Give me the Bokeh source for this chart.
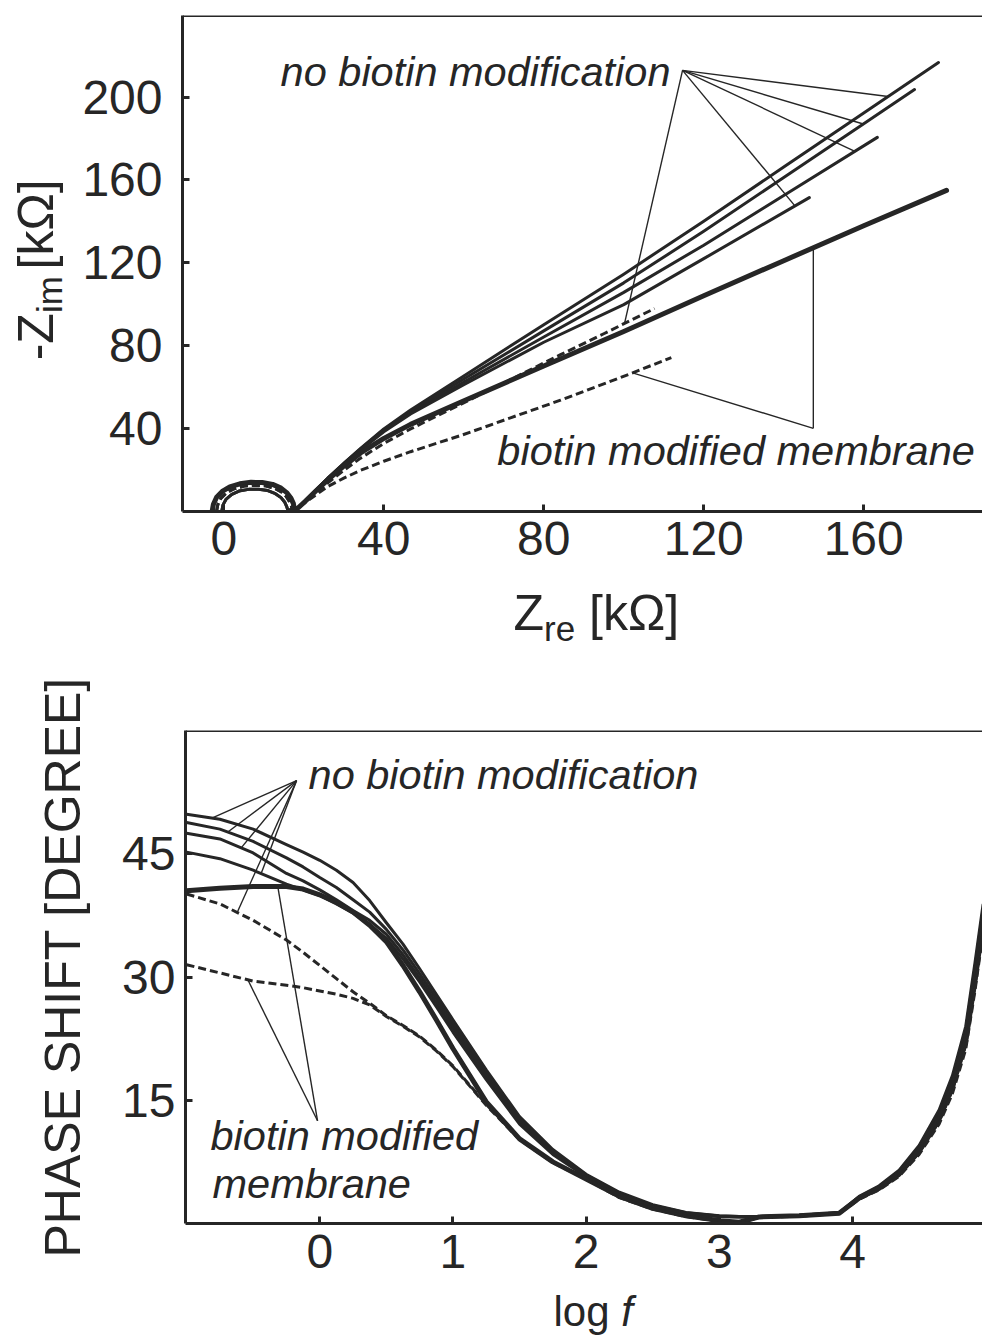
import numpy as np
from bokeh.plotting import figure
from bokeh.models import Range1d, FixedTicker, Label, Span, Title
from bokeh.layouts import column, row
from bokeh.embed import file_html
from bokeh.resources import INLINE

INK = "#262626"
FONT = "Liberation Sans"
LIFT = 0.36  # alphabetic-baseline correction for Label text, in em

# ---------------- Nyquist data (kOhm) ----------------
# high-frequency loops
loop_outer_x = [-2.9, -2.6, -1.8, -0.4, 1.5, 4.0, 6.8, 9.6, 12.2, 14.3, 15.8, 16.8, 17.4, 17.6]
loop_outer_y = [0.0, 3.2, 6.6, 9.4, 11.6, 13.1, 13.8, 13.7, 12.8, 11.0, 8.7, 6.1, 3.5, 1.2]
loop_mid_x = [-1.8, -1.5, -0.7, 0.7, 2.6, 5.1, 7.8, 10.4, 12.6, 14.4, 15.6, 16.4, 16.9, 17.1]
loop_mid_y = [0.0, 3.0, 6.2, 8.8, 10.7, 12.0, 12.3, 12.1, 11.0, 9.2, 7.0, 4.6, 2.3, 0.6]
loop_inner_x = [-0.5, -0.2, 0.6, 2.0, 3.8, 6.2, 8.7, 11.0, 12.9, 14.3, 15.2, 15.7, 16.0]
loop_inner_y = [0.0, 2.9, 5.7, 8.0, 9.6, 10.4, 10.5, 9.8, 8.3, 6.4, 4.3, 2.2, 0.4]

# low-frequency branches, no biotin modification
nyq_nb1_x = [18.2, 20.5, 23, 26, 30, 34.2, 40, 46.7, 60, 80, 100, 120, 140, 160, 178.7]
nyq_nb1_y = [0.8, 5.0, 9.9, 15.8, 23.0, 30.2, 39.6, 48.8, 65.2, 90.0, 114.4, 140.0, 166.2, 192.3, 216.7]
nyq_nb2_x = [18.2, 20.5, 23, 26, 30, 34.2, 40, 46.7, 60, 80, 100, 120, 140, 160, 172.7]
nyq_nb2_y = [0.8, 5.0, 9.9, 15.8, 22.9, 30.0, 39.2, 48.0, 63.7, 87.0, 110.2, 135.1, 161.1, 187.1, 203.6]
nyq_nb3_x = [18.2, 20.5, 23, 26, 30, 34.2, 40, 46.7, 60, 80, 100, 120, 140, 163.4]
nyq_nb3_y = [0.8, 5.0, 9.8, 15.6, 22.7, 29.7, 38.7, 47.3, 62.3, 84.0, 105.6, 128.4, 152.4, 180.5]
nyq_nb4_x = [18.2, 20.5, 23, 26, 30, 34.2, 40, 46.7, 60, 80, 100, 120, 146.4]
nyq_nb4_y = [0.8, 5.0, 9.8, 15.5, 22.5, 29.4, 38.2, 46.8, 61.0, 81.5, 99.7, 121.9, 151.4]
nyq_nbd_x = [18.2, 20.5, 23, 26, 30, 34.2, 40, 46.7, 59.2, 70, 84.2, 95, 107.7]
nyq_nbd_y = [0.8, 4.6, 8.8, 13.6, 19.6, 25.5, 32.6, 39.6, 51.5, 61.8, 75.5, 85.6, 97.8]
# biotin modified membrane
nyq_bm_x = [18.2, 20.5, 23, 26, 30, 34.2, 40, 46.7, 59.2, 80, 100, 120, 140, 160, 180.7]
nyq_bm_y = [0.8, 4.9, 9.6, 15.0, 21.6, 28.0, 35.0, 41.8, 52.5, 70.0, 86.7, 104.0, 120.9, 137.8, 154.9]
nyq_bmd_x = [18.2, 20.5, 23, 26, 30, 34.2, 40, 46.7, 59.2, 70, 84.2, 101.7, 111.9]
nyq_bmd_y = [0.8, 4.2, 7.7, 11.8, 15.8, 19.6, 24.0, 28.6, 36.4, 43.8, 53.5, 66.3, 74.1]

nyq_xticks = [0, 40, 80, 120, 160]
nyq_yticks = [40, 80, 120, 160, 200]

# ---------------- Bode phase data (degree) ----------------
logf = [-1.0, -0.75, -0.5, -0.25, -0.125, 0.0, 0.125, 0.25, 0.375, 0.5, 0.625, 0.75, 0.875, 1.0,
        1.25, 1.5, 1.75, 2.0, 2.25, 2.5, 2.75, 3.0, 3.15, 3.3, 3.6, 3.9,
        4.05, 4.2, 4.35, 4.5, 4.65, 4.75, 4.85, 4.92, 4.98]
ph_nb1 = [49.8, 49.2, 48.0, 46.1, 45.2, 44.2, 43.0, 41.5, 39.3, 36.6, 34.0, 31.0, 27.9, 24.8,
          18.7, 13.0, 9.0, 6.0, 3.8, 2.3, 1.35, 0.95, 0.85, 0.85, 1.0, 1.3,
          3.3, 4.6, 6.5, 9.5, 13.8, 18.0, 24.0, 31.8, 38.8]
ph_nb2 = [48.8, 48.0, 46.5, 44.5, 43.4, 42.1, 40.9, 39.4, 37.9, 35.8, 33.3, 30.4, 27.4, 24.3,
          18.3, 12.7, 8.8, 5.9, 3.7, 2.2, 1.3, 0.9, 0.85, 0.85, 1.0, 1.3,
          3.25, 4.5, 6.35, 9.3, 13.5, 17.6, 23.5, 31.2, 38.2]
ph_nb3 = [47.5, 46.8, 45.1, 42.6, 41.7, 40.6, 39.4, 38.1, 36.9, 35.2, 32.7, 29.9, 26.9, 23.8,
          17.9, 12.4, 8.6, 5.8, 3.6, 2.1, 1.25, 0.85, 0.8, 0.8, 0.95, 1.25,
          3.2, 4.4, 6.2, 9.1, 13.2, 17.2, 23.0, 30.6, 37.6]
ph_nb4 = [45.2, 44.4, 43.0, 41.3, 40.6, 39.9, 38.9, 37.8, 36.4, 34.7, 32.2, 29.4, 26.4, 23.3,
          17.5, 12.1, 8.4, 5.7, 3.5, 2.05, 1.2, 0.85, 0.8, 0.8, 0.95, 1.25,
          3.15, 4.35, 6.1, 8.95, 12.95, 16.9, 22.6, 30.1, 37.1]
ph_nbd = [40.1, 38.9, 36.9, 34.5, 33.0, 31.4, 29.8, 28.2, 26.8, 25.3, 24.1, 22.8, 21.1, 19.2,
          14.5, 10.3, 7.5, 5.5, 3.2, 1.8, 0.9, 0.3, 0.05, 0.75, 0.9, 1.2,
          3.0, 4.2, 5.9, 8.6, 12.4, 16.2, 21.7, 29.0, 36.0]
ph_bm = [40.5, 40.8, 41.0, 41.0, 40.7, 40.0, 39.1, 37.9, 36.3, 34.3, 31.4, 28.2, 24.8, 21.3,
         14.8, 10.3, 7.5, 5.4, 3.3, 1.85, 0.95, 0.35, 0.15, 0.8, 0.95, 1.25,
         3.1, 4.3, 6.0, 8.8, 12.7, 16.6, 22.2, 29.6, 36.6]
ph_bmd = [31.5, 30.5, 29.5, 29.0, 28.7, 28.3, 27.9, 27.4, 26.6, 25.2, 24.0, 22.7, 21.0, 19.1,
          14.4, 10.2, 7.4, 5.4, 3.15, 1.75, 0.85, 0.25, 0.05, 0.75, 0.9, 1.2,
          2.95, 4.1, 5.75, 8.4, 12.1, 15.8, 21.2, 28.4, 35.4]

bode_xticks = [0, 1, 2, 3, 4]
bode_yticks = [15, 30, 45]


def make_fig(width, height, left, top, bottom, xr, yr, xticks, yticks, xstand, ystand):
    p = figure(width=width, height=height, x_range=Range1d(*xr), y_range=Range1d(*yr),
               output_backend="svg", toolbar_location=None,
               min_border_left=left, min_border_right=0,
               min_border_top=top, min_border_bottom=bottom)
    p.outline_line_color = None
    p.grid.visible = False
    p.background_fill_color = "white"
    p.border_fill_color = "white"
    p.xaxis.ticker = FixedTicker(ticks=xticks)
    p.yaxis.ticker = FixedTicker(ticks=yticks)
    p.xaxis.major_label_standoff = xstand
    p.yaxis.major_label_standoff = ystand
    for ax in (p.xaxis[0], p.yaxis[0]):
        ax.axis_line_width = 3
        ax.axis_line_color = INK
        ax.major_tick_in = 7
        ax.major_tick_out = 0
        ax.major_tick_line_width = 3
        ax.major_tick_line_color = INK
        ax.minor_tick_line_color = None
        ax.major_label_text_font = FONT
        ax.major_label_text_font_size = "48px"
        ax.major_label_text_color = INK
    p.add_layout(Span(location=yr[1], dimension="width", line_color=INK, line_width=3))
    return p


def pane(width, height):
    # blank drawing area whose data units are pixels, y running downwards
    f = figure(width=width, height=height, x_range=Range1d(0, width), y_range=Range1d(height, 0),
               output_backend="svg", toolbar_location=None, x_axis_type=None, y_axis_type=None,
               min_border_left=0, min_border_right=0, min_border_top=0, min_border_bottom=0)
    f.outline_line_color = None
    f.grid.visible = False
    f.background_fill_color = "white"
    f.border_fill_color = "white"
    return f


def text(p, x, y, s, size, italic=False, angle=0.0, align="left"):
    p.add_layout(Label(x=x, y=y, text=s, text_font=FONT, text_font_size=f"{size}px",
                       text_font_style="italic" if italic else "normal",
                       text_color=INK, angle=angle, text_align=align,
                       text_baseline="alphabetic"))


def curve(p, xs, ys, width, dashed=False):
    if dashed:
        p.line(xs, ys, line_color=INK, line_width=width, line_dash="8 4", line_cap="butt",
               line_join="round")
    else:
        p.line(xs, ys, line_color=INK, line_width=width, line_cap="round", line_join="round")


def leaders(p, origin, targets):
    for xs, ys, xt in targets:
        yt = float(np.interp(xt, xs, ys))
        p.line([origin[0], xt], [origin[1], yt], line_color=INK, line_width=1.4)


thin, thick, dash_w = 3.0, 5.0, 3.0

# ---------------- Nyquist plot ----------------
p1 = make_fig(906, 580, 106, 15, 69, (-10.33, 189.7), (-0.3, 239.4),
              nyq_xticks, nyq_yticks, 10, 20)

series = [
    (loop_outer_x, loop_outer_y, nyq_nb1_x, nyq_nb1_y, thin, False),
    (loop_inner_x, loop_inner_y, nyq_nb2_x, nyq_nb2_y, thin, False),
    (loop_outer_x, loop_outer_y, nyq_nb3_x, nyq_nb3_y, thin, False),
    (loop_inner_x, loop_inner_y, nyq_nb4_x, nyq_nb4_y, thin, False),
    (loop_outer_x, loop_outer_y, nyq_bm_x, nyq_bm_y, thick, False),
    (loop_mid_x, loop_mid_y, nyq_nbd_x, nyq_nbd_y, dash_w, True),
    (loop_mid_x, loop_mid_y, nyq_bmd_x, nyq_bmd_y, dash_w, True),
]
for lx, ly, sx, sy, w, d in series:
    curve(p1, lx + sx, ly + sy, w, d)

leaders(p1, (114.7, 212.9), [
    (nyq_nb1_x, nyq_nb1_y, 166.1),
    (nyq_nb2_x, nyq_nb2_y, 159.9),
    (nyq_nb3_x, nyq_nb3_y, 157.8),
    (nyq_nb4_x, nyq_nb4_y, 142.8),
    (nyq_nbd_x, nyq_nbd_y, 100.2),
])
leaders(p1, (147.4, 39.9), [
    (nyq_bm_x, nyq_bm_y, 147.4),
    (nyq_bmd_x, nyq_bmd_y, 102.2),
])
text(p1, 14.2, 212.3, "no biotin modification", 41.5, italic=True)
text(p1, 68.4, 29.1, "biotin modified membrane", 41.5, italic=True)

# y title of the Nyquist plot, drawn upwards with subscript
ylab1 = pane(76, 580)
text(ylab1, 35, 348, "-Z", 50, angle=np.pi / 2, align="right")
text(ylab1, 49, 348, "im", 35, angle=np.pi / 2, align="left")
text(ylab1, 35, 297, "[kΩ]", 50, angle=np.pi / 2, align="left")

# x title of the Nyquist plot
xlab1 = pane(982, 80)
text(xlab1, 513, 630 - 580 - LIFT * 50, "Z", 50)
text(xlab1, 543.6, 641 - 580 - LIFT * 35, "re", 35)
text(xlab1, 588.6, 630 - 580 - LIFT * 50, "[kΩ]", 50)

# ---------------- Bode phase plot ----------------
p2 = make_fig(982, 628, 185, 70, 65, (-1.008, 4.976), (0, 60),
              bode_xticks, bode_yticks, 11, 10)

for ys, w, d in [(ph_nb1, thin, False), (ph_nb2, thin, False), (ph_nb3, thin, False),
                 (ph_nb4, thin, False), (ph_bm, thick, False), (ph_nbd, dash_w, True),
                 (ph_bmd, dash_w, True)]:
    curve(p2, logf, ys, w, d)

leaders(p2, (-0.174, 53.9), [
    (logf, ph_nb1, -0.81),
    (logf, ph_nb2, -0.69),
    (logf, ph_nb3, -0.59),
    (logf, ph_nb4, -0.44),
    (logf, ph_nbd, -0.62),
])
leaders(p2, (-0.0165, 12.5), [
    (logf, ph_bm, -0.315),
    (logf, ph_bmd, -0.54),
])
text(p2, -0.084, 54.7, "no biotin modification", 41.5, italic=True)
text(p2, -0.82, 10.7, "biotin modified", 41.5, italic=True)
text(p2, -0.805, 4.85, "membrane", 41.5, italic=True)

p2.add_layout(Title(text="PHASE SHIFT [DEGREE]", align="left", offset=-34, vertical_align="bottom",
                    standoff=58, text_font=FONT, text_font_size="50px",
                    text_font_style="normal", text_color=INK), "left")

# x title of the phase plot: "log" upright, "f" italic
xlab2 = pane(982, 48)
LOG_SIZE = 42
log_base = 0.905 * LOG_SIZE + 0.5
text(xlab2, 553, log_base - LIFT * LOG_SIZE, "log", LOG_SIZE)
text(xlab2, 553 + 1.612 * LOG_SIZE, log_base - LIFT * LOG_SIZE, "f", LOG_SIZE, italic=True)

layout = column(
    row(ylab1, p1, spacing=0),
    xlab1,
    row(p2, spacing=0),
    xlab2,
    spacing=0,
)
open("out.html", "w").write(file_html(layout, INLINE))
